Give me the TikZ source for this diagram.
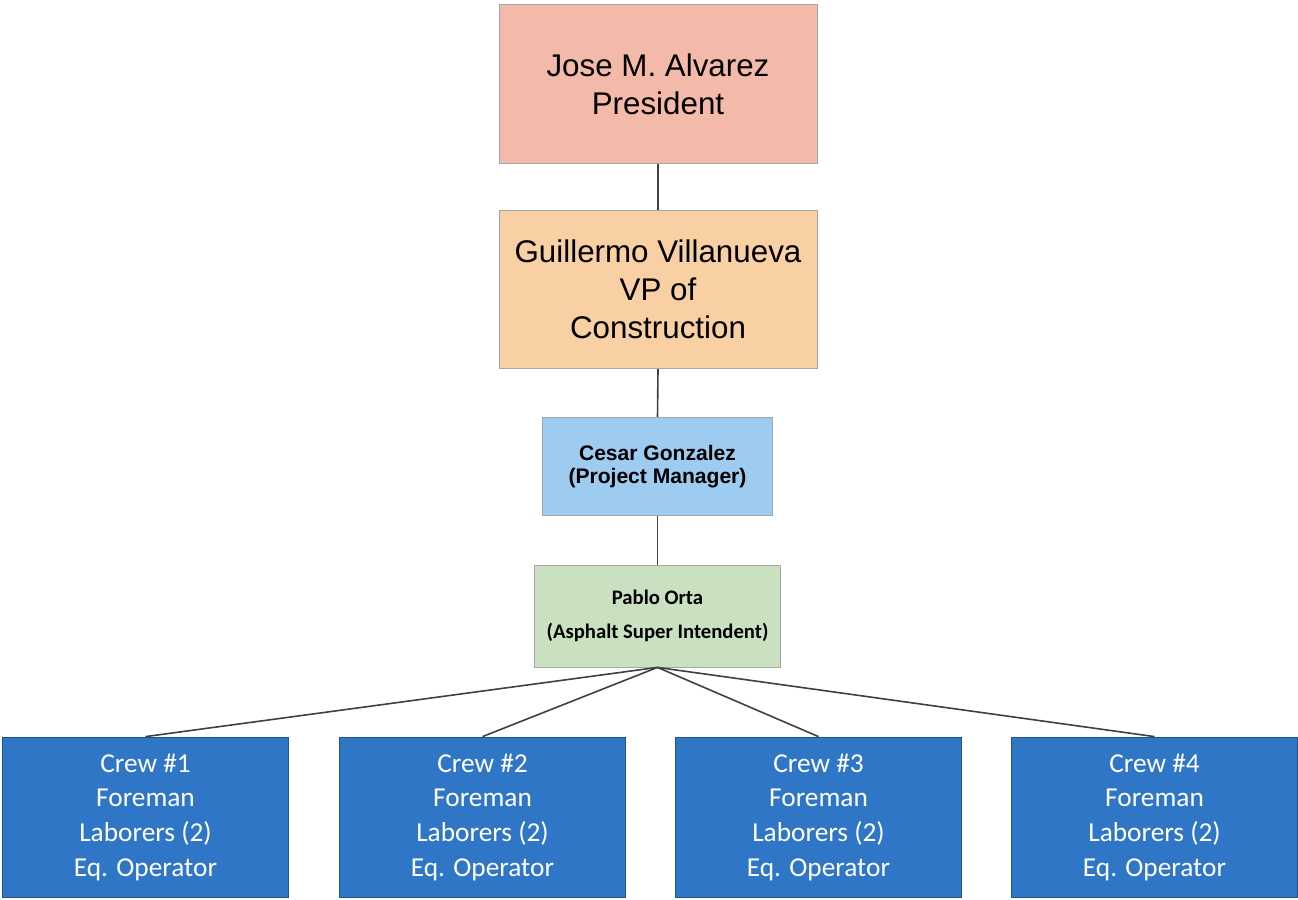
\documentclass[tikz,border=0pt]{standalone}
\usepackage{fontspec}
\setmainfont{Liberation Sans}
\newfontfamily\calibri{Carlito}
\usetikzlibrary{positioning}
\definecolor{presfill}{HTML}{F4BAA9}
\definecolor{vpfill}{HTML}{F8D0A4}
\definecolor{pmfill}{HTML}{9ECBF0}
\definecolor{supfill}{HTML}{C9E1C1}
\definecolor{crewfill}{HTML}{2F76C6}
\tikzset{
  box/.style  ={draw=gray!70, line width=0.6pt, align=center, inner sep=0pt},
  head/.style ={box, minimum width=238.5pt, minimum height=119pt,
                font=\fontsize{23.5}{28.5}\selectfont},
  pm/.style   ={box, fill=pmfill, minimum width=173pt, minimum height=74pt,
                font=\bfseries\fontsize{15.8}{17.5}\selectfont},
  sup/.style  ={box, fill=supfill, minimum width=184pt, minimum height=76.5pt,
                font=\calibri\bfseries\fontsize{15.5}{25}\selectfont},
  crew/.style ={box, draw=crewfill!70!black, fill=crewfill, text=white,
                minimum width=214pt, minimum height=120pt,
                font=\calibri\fontsize{20.5}{26}\selectfont},
  link/.style ={draw=black!75, line width=1.2pt}
}
\begin{document}
\begin{tikzpicture}[x=0.75pt, y=-0.75pt]
\useasboundingbox (0,0) rectangle (1298,899);
% top of the chart
\node[head, fill=presfill] (pres) at (658,84) {Jose M. Alvarez\\President};
\node[head, fill=vpfill] (vp) at (658,289.5) {Guillermo Villanueva\\VP of\\Construction};
\node[pm] (pm) at (657.5,466.5) {Cesar Gonzalez\\(Project Manager)};
\node[sup] (sup) at (657.5,616) {Pablo Orta\\(Asphalt Super Intendent)};
% crews
\foreach \i/\x in {1/145.5, 2/482.5, 3/818.5, 4/1154.5}
  \node[crew] (crew\i) at (\x,817) {Crew \#\i\\Foreman\\Laborers (2)\\Eq. Operator};
% links
\draw[link] (pres.south) -- (vp.north);
\draw[link] (vp.south) -- (pm.north);
\draw[link] (pm.south) -- (sup.north);
\foreach \i in {1,...,4}
  \draw[link] (sup.south) -- (crew\i.north);
\end{tikzpicture}
\end{document}
